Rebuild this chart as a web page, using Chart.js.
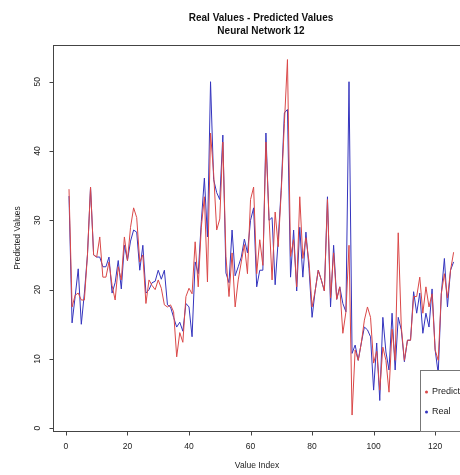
<!DOCTYPE html>
<html>
<head>
<meta charset="utf-8">
<script src="https://cdn.jsdelivr.net/npm/chart.js"></script>
<style>
  html, body { margin: 0; padding: 0; background: #fff; overflow: hidden; }
  #wrap { width: 460px; height: 475px; overflow: hidden; }
</style>
</head>
<body>
<div id="wrap"><canvas id="nnChart" width="480" height="475"></canvas></div>
<script>
// Real vs predicted values, neural network 12

const predicted = [
  34.5, 17.5, 19.2, 19.5, 18.5, 18.5, 25, 34.8, 25, 24.7,
  27.6, 21.8, 21.8, 24, 20.6, 18.5, 23.3, 21.4, 27.6, 24.2,
  29, 31.8, 30.4, 24, 25, 18, 21.4, 20.6, 20, 21.4,
  20.2, 17.8, 17.5, 17.8, 16.8, 10.3, 13.8, 12.4, 19, 20.2,
  19.4, 26.9, 20.4, 29, 33.4, 21.1, 42.6, 36.8, 28.6, 30.2,
  41.3, 24.8, 19, 25.3, 17.5, 21.4, 24, 26.5, 22.3, 33,
  34.8, 22.3, 27.2, 23.5, 41.3, 30.5, 21.4, 31.2, 26.2, 34.3,
  44, 53.2, 24.8, 27.2, 20.4, 33.4, 24.5, 27.5, 24, 17.5,
  19.8, 22.8, 21.4, 19.8, 33, 18.8, 25.3, 18.6, 20.4, 13.7,
  16.8, 26.4, 1.9, 11.3, 9.8, 12.3, 15.6, 17.5, 16, 9.4,
  11.1, 5.5, 11.7, 9.8, 5.2, 14.3, 9.8, 28.2, 14.6, 9.8,
  12.7, 12.7, 19, 19, 21.8, 16.6, 20.4, 17.5, 19.4, 11.3,
  9.8, 19.4, 22.3, 18.8, 22.8, 25.4
];

const real = [
  33.5, 15.2, 19, 23, 15, 19.5, 25, 34.8, 25, 24.7,
  24.7, 23.3, 23.3, 24.7, 19.5, 21, 24.2, 20.1, 26.4, 24.2,
  27, 28.6, 28.3, 22.8, 26.4, 19.5, 20, 21, 21.2, 22.8,
  21.5, 22.8, 17.8, 17.5, 16, 14.6, 15.3, 14, 18, 17.5,
  13.2, 24, 22.3, 29.8, 36.1, 27.6, 50, 35.9, 34, 33,
  42.3, 22.4, 21, 28.6, 22, 23.3, 24.7, 27.3, 25.3, 30,
  31.8, 20.4, 22.8, 22.8, 42.6, 30, 30.4, 20.7, 27.2, 34.8,
  45.5, 46, 21.8, 28.6, 19.8, 29, 21.8, 28.3, 23, 16,
  19.8, 22.8, 21.4, 19.8, 33.4, 17.5, 26.4, 18.6, 20.4, 18,
  16.8, 50, 10.8, 12, 9.8, 12.3, 14.6, 14.2, 13.2, 5.5,
  12.3, 4, 16, 11, 8.4, 16.6, 8.4, 16, 14.2, 9.6,
  12.7, 12.7, 19.7, 16.6, 19.5, 13.7, 16.6, 14.6, 20.1, 11.3,
  7.9, 19.4, 24.5, 17.5, 22.8, 24
];

const xTicks = [0, 20, 40, 60, 80, 100, 120];
const yTicks = [0, 10, 20, 30, 40, 50];

const titleLines = ['Real Values - Predicted Values', 'Neural Network 12'];
const seriesNames = ['Predicted', 'Real'];
const redLine = 'rgb(218,72,72)';
const blueLine = 'rgb(52,52,190)';

const toPoints = arr => arr.map((v, i) => ({ x: i + 1, y: v }));

// R style frame, axes, titles and legend
const rPlot = {
  id: 'rPlot',
  afterDraw(chart) {
    const ctx = chart.ctx;
    const a = chart.chartArea;
    const xs = chart.scales.x;
    const ys = chart.scales.y;
    ctx.save();
    ctx.fillStyle = '#222';
    ctx.strokeStyle = '#444';
    ctx.lineWidth = 1;

    // box
    ctx.strokeRect(Math.round(a.left) + 0.5, Math.round(a.top) + 0.5,
      Math.round(a.right - a.left), Math.round(a.bottom - a.top));

    // x axis
    ctx.font = '8.5px "Liberation Sans", Arial, sans-serif';
    ctx.textAlign = 'center';
    ctx.textBaseline = 'middle';
    const bx = Math.round(a.bottom) + 0.5;
    ctx.beginPath();
    ctx.moveTo(xs.getPixelForValue(xTicks[0]), bx);
    ctx.lineTo(xs.getPixelForValue(xTicks[xTicks.length - 1]), bx);
    xTicks.forEach(t => {
      const px = Math.round(xs.getPixelForValue(t)) + 0.5;
      ctx.moveTo(px, bx);
      ctx.lineTo(px, bx + 4);
    });
    ctx.stroke();
    xTicks.forEach(t => ctx.fillText(String(t), xs.getPixelForValue(t), 447));

    // y axis
    const lx = Math.round(a.left) + 0.5;
    ctx.beginPath();
    ctx.moveTo(lx, ys.getPixelForValue(yTicks[0]));
    ctx.lineTo(lx, ys.getPixelForValue(yTicks[yTicks.length - 1]));
    yTicks.forEach(t => {
      const py = Math.round(ys.getPixelForValue(t)) + 0.5;
      ctx.moveTo(lx, py);
      ctx.lineTo(lx - 4, py);
    });
    ctx.stroke();
    yTicks.forEach(t => {
      ctx.save();
      ctx.translate(38, ys.getPixelForValue(t));
      ctx.rotate(-Math.PI / 2);
      ctx.fillText(String(t), 0, 0);
      ctx.restore();
    });

    // axis titles
    ctx.fillText('Value Index', (a.left + a.right) / 2 - 4, 466);
    ctx.save();
    ctx.translate(18, (a.top + a.bottom) / 2);
    ctx.rotate(-Math.PI / 2);
    ctx.fillText('Predicted Values', 0, 0);
    ctx.restore();

    // main title
    ctx.fillStyle = '#111';
    ctx.font = 'bold 10px "Liberation Sans", Arial, sans-serif';
    const cx = (a.left + a.right) / 2;
    ctx.fillText(titleLines[0], cx, 18);
    ctx.fillText(titleLines[1], cx, 31);

    // legend, bottom right
    ctx.strokeStyle = '#777';
    ctx.fillStyle = '#fff';
    ctx.fillRect(420, 370, a.right - 420, a.bottom - 370);
    ctx.strokeRect(420.5, 370.5, Math.round(a.right) - 420, Math.round(a.bottom) - 370);
    ctx.font = '9px "Liberation Sans", Arial, sans-serif';
    ctx.textAlign = 'left';
    [redLine, blueLine].forEach((c, i) => {
      const y = 392 + i * 20;
      ctx.fillStyle = c;
      ctx.beginPath();
      ctx.arc(426.5, y, 1.5, 0, Math.PI * 2);
      ctx.fill();
      ctx.fillStyle = '#222';
      ctx.fillText(seriesNames[i], 432, y);
    });
    ctx.restore();
  }
};

const nnCtx = document.getElementById('nnChart');

new Chart(nnCtx, {
  type: 'line',

  data: {
    datasets: [{
      label: seriesNames[0],
      data: toPoints(predicted),
      borderColor: redLine,
      borderWidth: 1,
      pointRadius: 0,
      tension: 0,
      fill: false
    }, {
      label: seriesNames[1],
      data: toPoints(real),
      borderColor: blueLine,
      borderWidth: 1,
      pointRadius: 0,
      tension: 0,
      fill: false
    }]
  },

  options: {
    responsive: false,
    animation: false,
    events: [],
    layout: {
      padding: { left: 53, right: 11, top: 45, bottom: 44 }
    },
    plugins: {
      legend: { display: false },
      tooltip: { enabled: false },
      title: { display: false }
    },
    scales: {
      x: {
        type: 'linear',
        min: -4.2,
        max: 131,
        ticks: { display: false },
        grid: { display: false, drawTicks: false },
        border: { display: false }
      },
      y: {
        type: 'linear',
        min: -0.4,
        max: 55.3,
        ticks: { display: false },
        grid: { display: false, drawTicks: false },
        border: { display: false }
      }
    }
  },

  plugins: [rPlot]
});
</script>
</body>
</html>
